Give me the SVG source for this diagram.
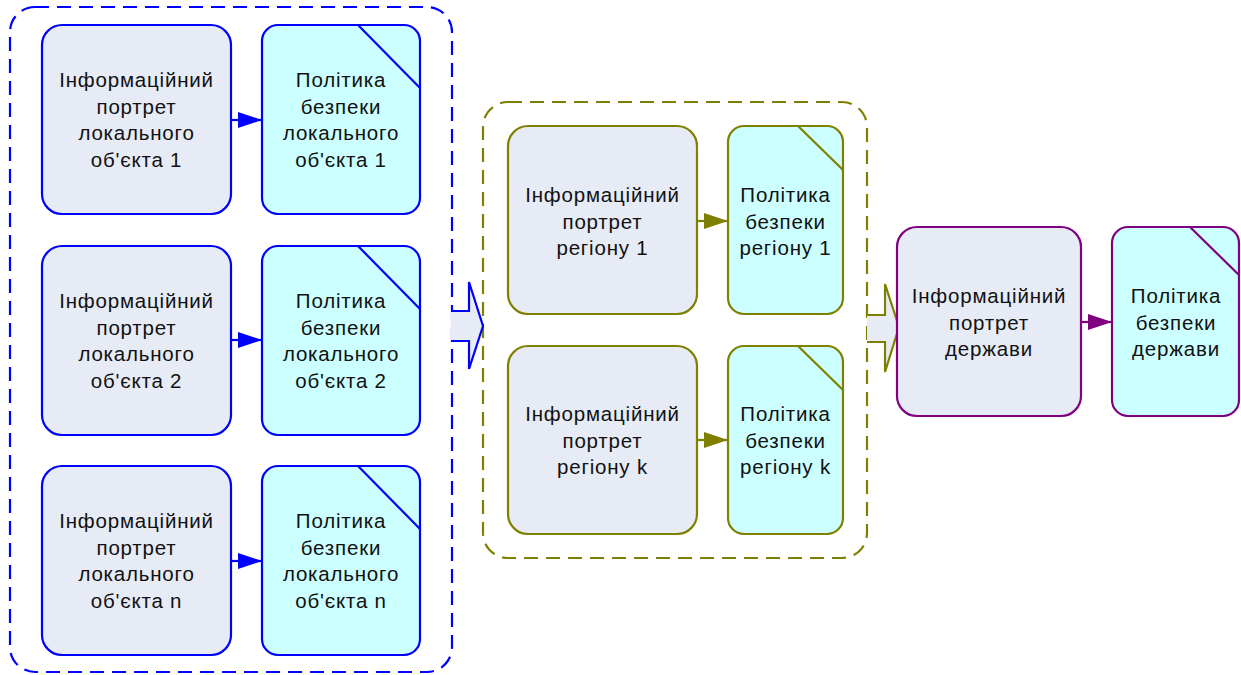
<svg xmlns="http://www.w3.org/2000/svg" width="1241" height="675" viewBox="0 0 1241 675">
<style>
text{font-family:"Liberation Sans",Arial,sans-serif;font-size:20.5px;letter-spacing:0.8px;fill:#111;text-anchor:middle}
.proc{fill:#E6EBF6;stroke-width:2.2}
.pol{fill:#CCFFFF;stroke-width:2.2}
.cut{fill:none;stroke-width:2.2}
.b{stroke:#0000FF}
.o{stroke:#808000}
.p{stroke:#800080}
.cont{fill:none;stroke-width:2.2;stroke-dasharray:14 8}
.big{fill:#E6EBF6;stroke-width:2.2;stroke-linejoin:miter}
.ln{stroke-width:2.2;fill:none}
</style>
<defs>
<marker id="mb" markerWidth="24" markerHeight="16" refX="24" refY="8" orient="auto" markerUnits="userSpaceOnUse"><path d="M0,0 L24,8 L0,16 Z" fill="#0000FF"/></marker>
<marker id="mo" markerWidth="24" markerHeight="16" refX="24" refY="8" orient="auto" markerUnits="userSpaceOnUse"><path d="M0,0 L24,8 L0,16 Z" fill="#808000"/></marker>
<marker id="mp" markerWidth="24" markerHeight="16" refX="24" refY="8" orient="auto" markerUnits="userSpaceOnUse"><path d="M0,0 L24,8 L0,16 Z" fill="#800080"/></marker>
</defs>

<g id="containers">
<rect id="local-group" class="cont b" x="10" y="7" width="442" height="665" rx="25"/>
<rect id="region-group" class="cont o" x="483" y="102" width="384" height="456" rx="25"/>
</g>

<g id="connectors">
<path class="ln b" d="M231,120 L262,120" marker-end="url(#mb)"/>
<path class="ln b" d="M231,340 L262,340" marker-end="url(#mb)"/>
<path class="ln b" d="M231,561 L262,561" marker-end="url(#mb)"/>
<path class="ln o" d="M697,221 L728,221" marker-end="url(#mo)"/>
<path class="ln o" d="M697,440 L728,440" marker-end="url(#mo)"/>
<path class="ln p" d="M1081,322 L1112,322" marker-end="url(#mp)"/>
<path class="big b" d="M451,311 L469,311 L469,282 L483,326 L469,369 L469,341 L451,341"/>
<path class="big o" d="M867,315 L885,315 L885,284 L899,327 L885,372 L885,342 L867,342"/>
</g>

<g id="local1">
<rect class="proc b" x="42" y="25" width="189" height="189" rx="20"/>
<text x="136.5" y="87">Інформаційний</text><text x="136.5" y="113.5">портрет</text><text x="136.5" y="140">локального</text><text x="136.5" y="166.5">об'єкта 1</text>
</g>
<g id="policy-local1">
<rect class="pol b" x="262" y="25" width="158" height="189" rx="16"/>
<path class="cut b" d="M358,25 L420,88"/>
<text x="341" y="87">Політика</text><text x="341" y="113.5">безпеки</text><text x="341" y="140">локального</text><text x="341" y="166.5">об'єкта 1</text>
</g>

<g id="local2">
<rect class="proc b" x="42" y="246" width="189" height="189" rx="20"/>
<text x="136.5" y="308">Інформаційний</text><text x="136.5" y="334.5">портрет</text><text x="136.5" y="361">локального</text><text x="136.5" y="387.5">об'єкта 2</text>
</g>
<g id="policy-local2">
<rect class="pol b" x="262" y="246" width="158" height="189" rx="16"/>
<path class="cut b" d="M358,246 L420,309"/>
<text x="341" y="308">Політика</text><text x="341" y="334.5">безпеки</text><text x="341" y="361">локального</text><text x="341" y="387.5">об'єкта 2</text>
</g>

<g id="localn">
<rect class="proc b" x="42" y="466" width="189" height="189" rx="20"/>
<text x="136.5" y="528">Інформаційний</text><text x="136.5" y="554.5">портрет</text><text x="136.5" y="581">локального</text><text x="136.5" y="607.5">об'єкта n</text>
</g>
<g id="policy-localn">
<rect class="pol b" x="262" y="466" width="158" height="189" rx="16"/>
<path class="cut b" d="M358,466 L420,529"/>
<text x="341" y="528">Політика</text><text x="341" y="554.5">безпеки</text><text x="341" y="581">локального</text><text x="341" y="607.5">об'єкта n</text>
</g>

<g id="region1">
<rect class="proc o" x="508" y="126" width="189" height="188" rx="20"/>
<text x="602.5" y="202">Інформаційний</text><text x="602.5" y="228.5">портрет</text><text x="602.5" y="255">регіону 1</text>
</g>
<g id="policy-region1">
<rect class="pol o" x="728" y="126" width="115" height="188" rx="16"/>
<path class="cut o" d="M798,126 L843,170"/>
<text x="785.5" y="202">Політика</text><text x="785.5" y="228.5">безпеки</text><text x="785.5" y="255">регіону 1</text>
</g>

<g id="regionk">
<rect class="proc o" x="508" y="346" width="189" height="188" rx="20"/>
<text x="602.5" y="421">Інформаційний</text><text x="602.5" y="447.5">портрет</text><text x="602.5" y="474">регіону k</text>
</g>
<g id="policy-regionk">
<rect class="pol o" x="728" y="346" width="115" height="188" rx="16"/>
<path class="cut o" d="M798,346 L843,390"/>
<text x="785.5" y="421">Політика</text><text x="785.5" y="447.5">безпеки</text><text x="785.5" y="474">регіону k</text>
</g>

<g id="state">
<rect class="proc p" x="897" y="227" width="184" height="189" rx="20"/>
<text x="989" y="303">Інформаційний</text><text x="989" y="329.5">портрет</text><text x="989" y="356">держави</text>
</g>
<g id="policy-state">
<rect class="pol p" x="1112" y="227" width="127" height="189" rx="16"/>
<path class="cut p" d="M1190,227 L1239,275"/>
<text x="1176" y="303">Політика</text><text x="1176" y="329.5">безпеки</text><text x="1176" y="356">держави</text>
</g>
</svg>
